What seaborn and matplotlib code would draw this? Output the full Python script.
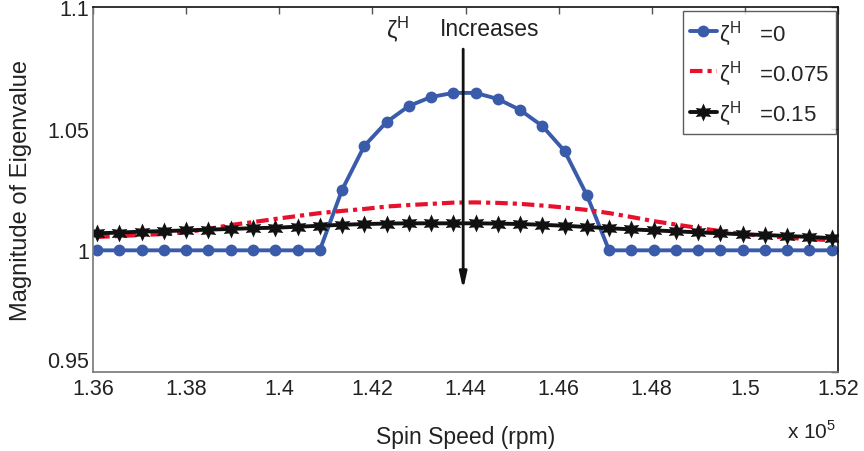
import matplotlib
matplotlib.use("Agg")
import matplotlib.pyplot as plt
import seaborn as sns
import pandas as pd

sns.set_theme(style="white")
plt.rcParams['font.family'] = ['Liberation Sans', 'DejaVu Sans']
plt.rcParams['mathtext.fontset'] = 'custom'
plt.rcParams['mathtext.rm'] = 'Liberation Sans'

# Spin speed (rpm)
speed = [136090, 136568, 137046, 137524, 138002, 138480, 138958, 139436, 139914, 140392,
         140870, 141348, 141826, 142304, 142782, 143260, 143738, 144216, 144694, 145172,
         145650, 146128, 146606, 147084, 147562, 148040, 148518, 148996, 149474, 149952,
         150430, 150908, 151386, 151864]

zeta_0 = [1.0, 1.0, 1.0, 1.0, 1.0, 1.0, 1.0, 1.0, 1.0, 1.0,
          1.0, 1.0248, 1.0429, 1.0527, 1.0593, 1.0630, 1.0647, 1.0647, 1.0622, 1.0577,
          1.0511, 1.0408, 1.0227, 1.0, 1.0, 1.0, 1.0, 1.0, 1.0, 1.0,
          1.0, 1.0, 1.0, 1.0]

zeta_0075 = [1.0055, 1.0059, 1.0063, 1.0067, 1.0075, 1.0088, 1.0104, 1.0116, 1.0129, 1.0141,
             1.0153, 1.0162, 1.0170, 1.0180, 1.0186, 1.0191, 1.0196, 1.0197, 1.0195, 1.0191,
             1.0184, 1.0176, 1.0166, 1.0153, 1.0137, 1.0120, 1.0106, 1.0092, 1.0079, 1.0067,
             1.0059, 1.0052, 1.0046, 1.0042]

zeta_015 = [1.0070, 1.0073, 1.0077, 1.0079, 1.0082, 1.0085, 1.0088, 1.0091, 1.0093, 1.0097,
            1.0101, 1.0105, 1.0108, 1.0110, 1.0111, 1.0111, 1.0111, 1.0111, 1.0110, 1.0108,
            1.0105, 1.0101, 1.0096, 1.0091, 1.0086, 1.0082, 1.0078, 1.0074, 1.0070, 1.0066,
            1.0063, 1.0059, 1.0055, 1.0050]

x_ticks = [1.36, 1.38, 1.40, 1.42, 1.44, 1.46, 1.48, 1.50, 1.52]
x_tick_labels = ["1.36", "1.38", "1.4", "1.42", "1.44", "1.46", "1.48", "1.5", "1.52"]
y_ticks = [0.95, 1.0, 1.05, 1.1]
y_tick_labels = ["0.95", "1", "1.05", "1.1"]

series_labels = ["ζ$^{\\mathrm{H}}$   =0", "ζ$^{\\mathrm{H}}$   =0.075", "ζ$^{\\mathrm{H}}$   =0.15"]

df = pd.DataFrame({
    "speed": [s / 1e5 for s in speed],
    "z0": zeta_0,
    "z1": zeta_0075,
    "z2": zeta_015,
})

fig = plt.figure(figsize=(8.64, 4.52), dpi=100)
ax = fig.add_axes([93 / 864, 1 - 373 / 452, 745 / 864, 365 / 452])

blue = "#3A5BAA"
red = "#E8112D"

sns.lineplot(data=df, x="speed", y="z0", ax=ax, color=blue, lw=2.8, marker="o",
             markersize=8.5, markeredgewidth=0, label=series_labels[0])
sns.lineplot(data=df, x="speed", y="z1", ax=ax, color=red, lw=3.0,
             label=series_labels[1])
sns.lineplot(data=df, x="speed", y="z2", ax=ax, color="#111111", lw=2.8, marker=(6, 1, 0),
             markersize=13, markeredgewidth=0, label=series_labels[2])
ax.lines[1].set_dashes([3.0, 1.2, 1.0, 1.2])
ax.lines[1].set_dash_capstyle('butt')

ax.set_xlim(1.36, 1.52)
ax.set_ylim(0.95, 1.1)
ax.set_xticks(x_ticks)
ax.set_xticklabels(x_tick_labels)
ax.set_yticks(y_ticks)
ax.set_yticklabels(y_tick_labels)
ax.tick_params(direction="in", length=5, width=1, colors="#555555", labelcolor="#222222",
               labelsize=15.5, top=True, right=True, pad=3)
ax.tick_params(axis="x", pad=4)
ax.get_yticklabels()[0].set_va("bottom")

for side in ["left", "bottom"]:
    ax.spines[side].set_color("#777777")
    ax.spines[side].set_linewidth(1.2)
for side in ["top", "right"]:
    ax.spines[side].set_color("#111111")
    ax.spines[side].set_linewidth(1.2)

ax.set_xlabel("Spin Speed (rpm)", fontsize=16.5, color="#222222", labelpad=19)
ax.set_ylabel("Magnitude of Eigenvalue", fontsize=17, color="#222222", labelpad=11)

ax.text(1.5195, 0.926, "x 10$^{5}$", fontsize=15, ha="right", va="center", color="#222222",
        clip_on=False)

ax.annotate("", xy=(1.4395, 0.984), xytext=(1.4395, 1.0827),
            arrowprops=dict(arrowstyle="-|>,head_length=0.8,head_width=0.18", color="#111111",
                            lw=2.0, shrinkA=0, shrinkB=0))
ax.text(1.4255, 1.091, "ζ$^{\\mathrm{H}}$", fontsize=17, ha="center", va="center", color="#222222")
ax.text(1.4345, 1.091, "Increases", fontsize=16.5, ha="left", va="center", color="#222222")

leg = ax.legend(loc="upper right", bbox_to_anchor=(0.997, 0.989), borderaxespad=0,
                fontsize=16, handlelength=1.2, handletextpad=0.1, labelspacing=0.5,
                borderpad=0.3, frameon=True, fancybox=False)
leg.get_frame().set_edgecolor("#333333")
leg.get_frame().set_linewidth(1.0)

fig.savefig("out.png", dpi=100)
